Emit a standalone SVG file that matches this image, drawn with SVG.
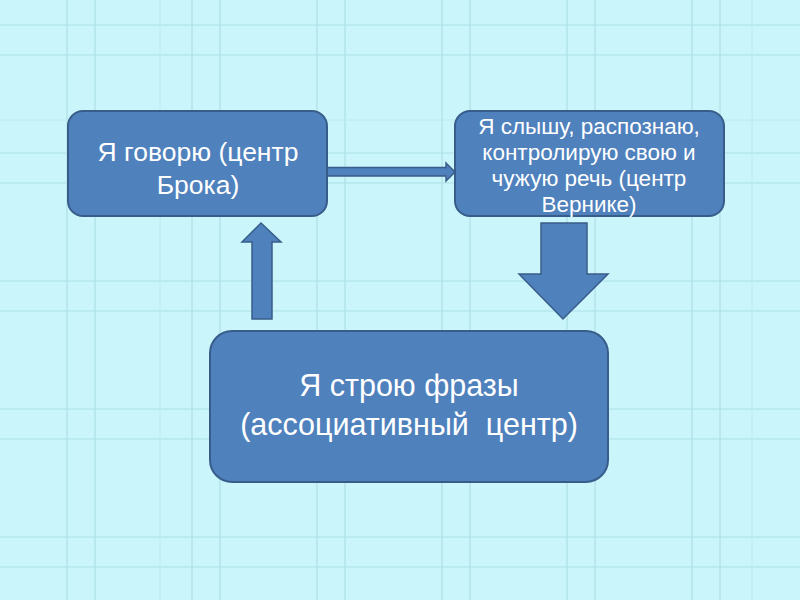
<svg xmlns="http://www.w3.org/2000/svg" width="800" height="600" viewBox="0 0 800 600">
<style>
.bg{fill:#C9F5FB}
.gl{stroke:#AEDFE7;stroke-width:1.2;fill:none}
.gm{stroke:#BCEAF0;stroke-width:1;fill:none}
.box{fill:#4F81BD;stroke:#385D8A;stroke-width:2}
.arr{fill:#4F81BD;stroke:#385D8A;stroke-width:1.5;stroke-linejoin:miter}
.t{fill:#FFFFFF;font-family:"Liberation Sans",Arial,sans-serif;text-anchor:middle}
</style>
<rect class="bg" x="0" y="0" width="800" height="600"/>
<g id="grid">
<path class="gl" d="M67 0V600M95 0V600M192 0V600M220 0V600M317 0V600M345 0V600M442 0V600M470 0V600M567 0V600M595 0V600M692 0V600M720 0V600"/>
<path class="gl" d="M0 25H800M0 55H800M0 153H800M0 183H800M0 281H800M0 311H800M0 409H800M0 439H800M0 537H800M0 567H800"/>
<path class="gm" d="M752 0V600M160 0V600M0 120H800"/>
</g>
<g id="connectors">
<polygon class="arr" points="327,167.5 446,167.5 446,163 455,172 446,181 446,176 327,176"/>
<polygon class="arr" points="541,223 587,223 587,274 608,274 563,319 519,274 541,274"/>
<polygon class="arr" points="252,319 252,242 242,242 261,223 281,242 272,242 272,319"/>
</g>
<g id="node-broca">
<rect class="box" x="68" y="111" width="259" height="105" rx="15"/>
<text class="t" font-size="26.5"><tspan x="198" y="161">Я говорю (центр</tspan><tspan x="198" y="194">Брока)</tspan></text>
</g>
<g id="node-wernicke">
<rect class="box" x="455" y="111" width="269" height="105" rx="15"/>
<text class="t" font-size="22.5"><tspan x="589" y="134">Я слышу, распознаю,</tspan><tspan x="589" y="160">контролирую свою и</tspan><tspan x="589" y="186">чужую речь (центр</tspan><tspan x="589" y="212">Вернике)</tspan></text>
</g>
<g id="node-assoc">
<rect class="box" x="210" y="331" width="398" height="151" rx="22"/>
<text class="t" font-size="30.5"><tspan x="409" y="396">Я строю фразы</tspan><tspan x="409" y="435" xml:space="preserve">(ассоциативный  центр)</tspan></text>
</g>
</svg>
